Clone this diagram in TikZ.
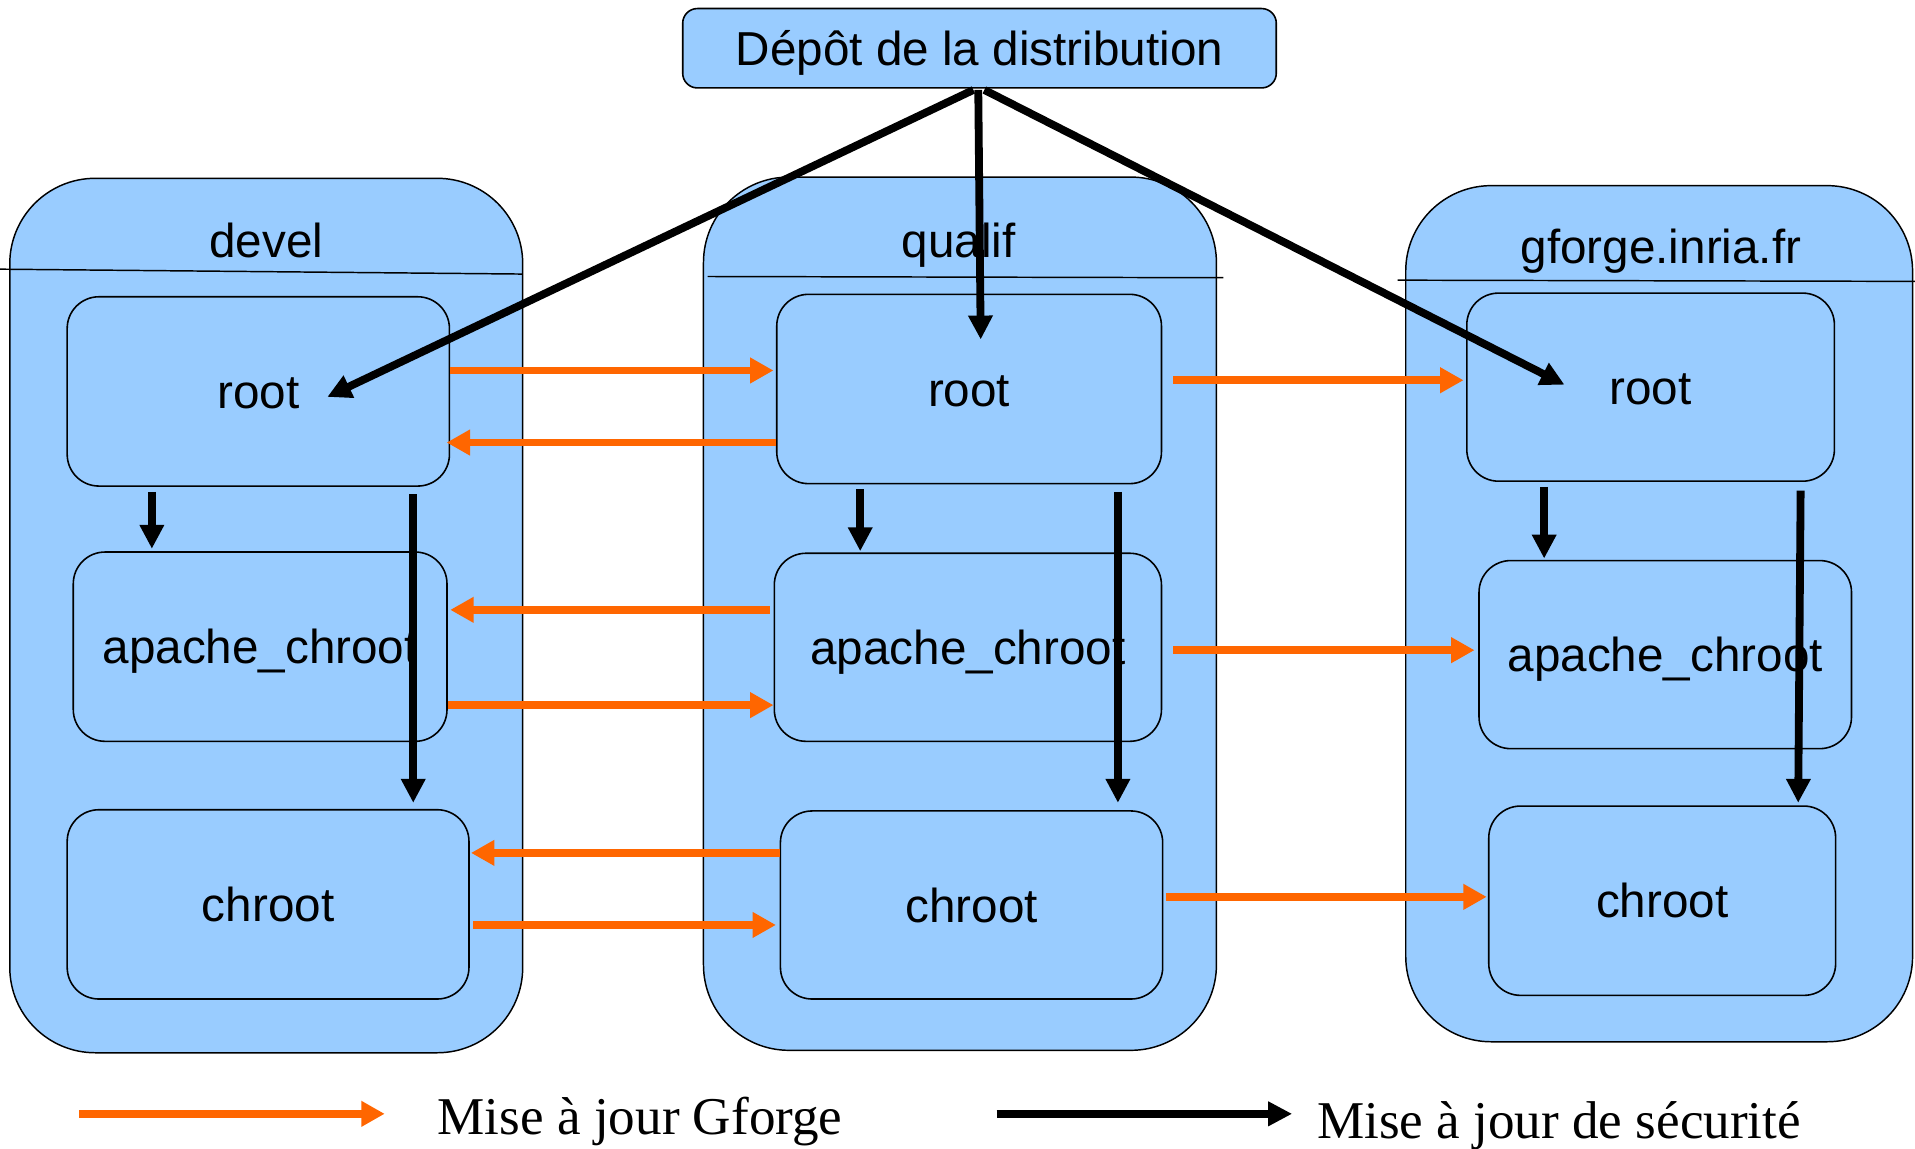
\documentclass[tikz,border=0pt]{standalone}
\usepackage{fontspec}
\setmainfont{Liberation Sans}
\newfontfamily\legendfont{Liberation Serif}
\usetikzlibrary{calc,arrows.meta}
\definecolor{boxblue}{HTML}{99CCFF}
\definecolor{gforange}{HTML}{FF6600}
\begin{document}
\begin{tikzpicture}[x=0.5pt,y=-0.5pt,
  txt/.style={font=\fontsize{19.5}{22}\selectfont, text height=14pt, text depth=0pt, inner sep=0pt},
  container/.style={draw=black, line width=0.6pt, fill=boxblue, rounded corners=35pt, inner sep=0pt},
  inbox/.style={draw=black, line width=0.65pt, fill=boxblue, rounded corners=13pt, txt},
  topbox/.style={draw=black, line width=0.65pt, fill=boxblue, rounded corners=6pt, txt},
  hdr/.style={draw=black, line width=0.6pt},
  sec/.style={draw=black, line width=3.2pt, -{Triangle[length=9.8pt,width=9.5pt]}},
  gf/.style={draw=gforange, line width=3.2pt, -{Triangle[length=9.6pt,width=10pt]}},
  legtxt/.style={font=\legendfont\fontsize{21.75}{24}\selectfont, inner sep=0pt, anchor=base west}
]
\useasboundingbox (0,0) rectangle (1568,940.8);

% containers
\node[container, minimum width=210pt, minimum height=358pt] (devel) at (218,504) {};
\node[container, minimum width=210pt, minimum height=357.5pt] (qualif) at (786,502.5) {};
\node[container, minimum width=207.5pt, minimum height=350.5pt] (gforge) at (1358.5,502.5) {};

% header lines
\draw[hdr] ($(devel.north west)+(-8,75)$) -- ($(devel.north east)+(-1,79)$);
\draw[hdr] ($(qualif.north west)+(4,82)$) -- ($(qualif.north east)+(5,83)$);
\draw[hdr] ($(gforge.north west)+(-6,78)$) -- ($(gforge.north east)+(2,79)$);

% container labels
\node[txt] (ldevel) at (218,197) {devel};
\node[txt] (lqualif) at (785,197) {qualif};
\node[txt] (lgforge) at (1360,202) {gforge.inria.fr};

% top box
\node[topbox, minimum width=243pt, minimum height=32.5pt] (top) at (802,39.5) {Dépôt de la distribution};

% inner boxes
\node[inbox, minimum width=156.5pt, minimum height=77.5pt] (droot) at (211.5,320.5) {root};
\node[inbox, minimum width=153pt, minimum height=77.5pt] (dapache) at (213,529.5) {apache\_chroot};
\node[inbox, minimum width=164.5pt, minimum height=77.5pt] (dchroot) at (219.5,740.5) {chroot};

\node[inbox, minimum width=157.5pt, minimum height=77.5pt] (qroot) at (793.5,318.5) {root};
\node[inbox, minimum width=158.5pt, minimum height=77pt] (qapache) at (792.5,530) {apache\_chroot};
\node[inbox, minimum width=156.5pt, minimum height=77pt] (qchroot) at (795.5,741) {chroot};

\node[inbox, minimum width=150.5pt, minimum height=77pt] (groot) at (1351.5,317) {root};
\node[inbox, minimum width=152.5pt, minimum height=77pt] (gapache) at (1363.5,536) {apache\_chroot};
\node[inbox, minimum width=142pt, minimum height=77.5pt] (gchroot) at (1361,737.5) {chroot};

% orange arrows
\draw[gf] ($(droot.north east)+(0,61)$) -- ($(qroot.north west)+(-2,63)$);
\draw[gf] ($(qroot.north west)+(0,122)$) -- ($(droot.north east)+(-3,120)$);
\draw[gf] ($(qapache.north west)+(-3,47)$) -- ($(dapache.north east)+(2,48)$);
\draw[gf] ($(dapache.north east)+(0,126)$) -- ($(qapache.north west)+(0,125)$);
\draw[gf] ($(qchroot.north west)+(0,35)$) -- ($(dchroot.north east)+(1,36)$);
\draw[gf] ($(dchroot.north east)+(3,95)$) -- ($(qchroot.north west)+(-3,94)$);
\draw[gf] ($(qroot.north east)+(9,71)$) -- ($(groot.north west)+(-2,72)$);
\draw[gf] ($(qapache.north east)+(9,80)$) -- ($(gapache.north west)+(-3,74)$);
\draw[gf] ($(qchroot.north east)+(2,71)$) -- ($(gchroot.north west)+(-1,75)$);

% black arrows from top
\draw[sec] ($(top.south)+(-5,1)$) -- ($(droot.center)+(56.5,4.5)$);
\draw[sec] ($(top.south)+(-1,1)$) -- ($(qroot.center)+(9.5,-40.5)$);
\draw[sec] ($(top.south)+(4,1)$) -- ($(groot.center)+(-70.5,-2)$);

% black vertical arrows
\draw[sec] ($(droot.south west)+(70,4)$) -- ($(dapache.north west)+(65,-2)$);
\draw[sec] ($(droot.south west)+(284,6)$) -- ($(dchroot.north west)+(284,-5)$);
\draw[sec] ($(qroot.south west)+(69,4)$) -- ($(qapache.north west)+(71,-1)$);
\draw[sec] ($(qroot.south west)+(280,6)$) -- ($(qchroot.north west)+(277,-6)$);
\draw[sec] ($(groot.south west)+(64,4)$) -- ($(gapache.north west)+(54,-1)$);
\draw[sec] ($(groot.south west)+(274,7)$) -- ($(gchroot.north west)+(254,-2)$);

% legend
\coordinate (lo1) at (65,912);
\coordinate (lo2) at (315,912);
\coordinate (lb1) at (816,912);
\coordinate (lb2) at (1058,912);
\draw[gf] (lo1) -- (lo2);
\draw[sec] (lb1) -- (lb2);
\node[legtxt] (tgf) at (358,929) {Mise à jour Gforge};
\node[legtxt] (tsec) at (1078,932) {Mise à jour de sécurité};
\end{tikzpicture}
\end{document}
